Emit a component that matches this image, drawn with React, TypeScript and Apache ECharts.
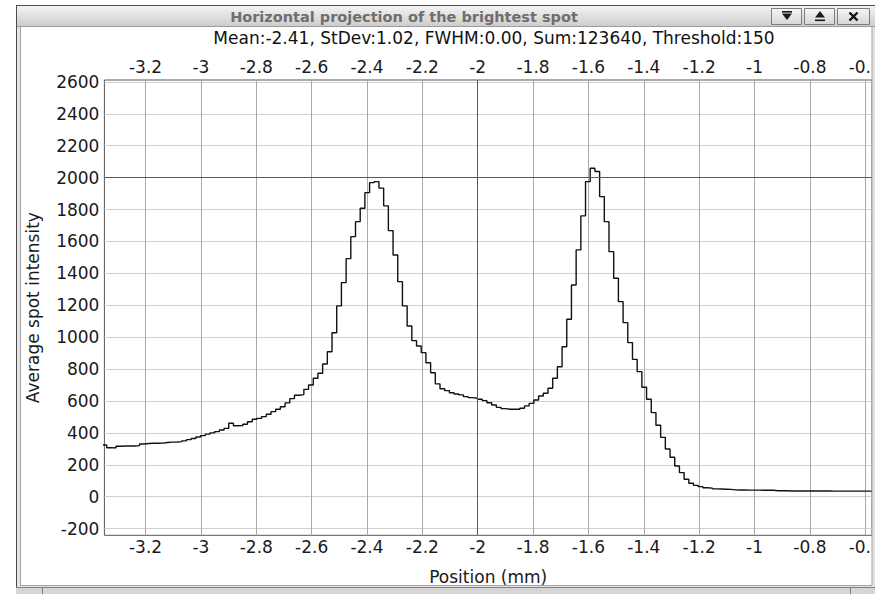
import React, { useEffect, useRef } from "react";
import * as echarts from "echarts";

const windowTitle = "Horizontal projection of the brightest spot";
const statsLine = "Mean:-2.41, StDev:1.02, FWHM:0.00, Sum:123640, Threshold:150";
const xAxisTitle = "Position (mm)";
const yAxisTitle = "Average spot intensity";

const xTicks = [-3.2, -3, -2.8, -2.6, -2.4, -2.2, -2, -1.8, -1.6, -1.4, -1.2, -1, -0.8, -0.6];
const yTicks = [-200, 0, 200, 400, 600, 800, 1000, 1200, 1400, 1600, 1800, 2000, 2200, 2400, 2600];

const xMin = -3.3486;
const xMax = -0.5755;
const yMin = -242;
const yMax = 2612;

// histogram bins (left edge of first bin, bin width in mm)
const binStart = -3.3573;
const binWidth = 0.01696;

const intensity = [
  324, 307, 306, 316, 318, 318, 318, 320, 330, 333,
  335, 335, 336, 340, 342, 343, 345, 350, 358, 365,
  374, 383, 392, 400, 408, 418, 428, 460, 445, 446,
  454, 470, 485, 491, 502, 517, 533, 548, 564, 588,
  615, 636, 640, 673, 700, 742, 774, 832, 909, 1028,
  1196, 1342, 1492, 1630, 1724, 1808, 1906, 1969, 1975, 1934,
  1823, 1668, 1515, 1348, 1196, 1070, 978, 945, 903, 840,
  777, 707, 677, 665, 652, 644, 638, 627, 621, 617,
  611, 602, 589, 575, 560, 552, 548, 548, 548, 554,
  569, 585, 606, 631, 648, 680, 742, 815, 940, 1112,
  1327, 1547, 1760, 1975, 2059, 2038, 1881, 1724, 1536, 1369,
  1223, 1091, 966, 861, 784, 686, 611, 527, 448, 372,
  299, 247, 192, 151, 109, 84, 71, 63, 56, 54,
  49, 48, 47, 46, 43, 42, 42, 41, 41, 41,
  40, 40, 40, 37, 37, 37, 36, 36, 36, 36,
  36, 36, 36, 36, 36, 35, 35, 35, 35, 35,
  35, 35, 35, 35,
];

const crossX = -2;
const crossY = 2000;

const FONT = "'DejaVu Sans', sans-serif";

function fmtX(v: number) {
  return String(Number(v.toFixed(1)));
}
function fmtY(v: number) {
  return String(Math.round(v));
}

export default function App() {
  const ref = useRef<HTMLDivElement>(null);

  useEffect(() => {
    if (!ref.current) return;
    const chart = echarts.init(ref.current, null, { renderer: "svg" });

    const points: number[][] = intensity.map((v, i) => [binStart + i * binWidth, v]);
    points.push([binStart + intensity.length * binWidth, intensity[intensity.length - 1]]);

    const barGrad = {
      type: "linear", x: 0, y: 0, x2: 0, y2: 1,
      colorStops: [
        { offset: 0, color: "#f3f3f3" },
        { offset: 1, color: "#cdcdcd" },
      ],
    };
    const btnGrad = {
      type: "linear", x: 0, y: 0, x2: 0, y2: 1,
      colorStops: [
        { offset: 0, color: "#f6f6f6" },
        { offset: 1, color: "#d6d6d6" },
      ],
    };

    const graphic: any[] = [
      { type: "rect", z: 40, shape: { x: 16, y: 5, width: 859, height: 1 }, style: { fill: "#4d4d4d" } },
      { type: "rect", z: 40, shape: { x: 16, y: 5, width: 1, height: 589 }, style: { fill: "#4d4d4d" } },
      { type: "rect", z: 40, shape: { x: 17, y: 6, width: 858, height: 20 }, style: { fill: barGrad } },
      { type: "rect", z: 40, shape: { x: 17, y: 26, width: 858, height: 1 }, style: { fill: "#9c9c9c" } },
      { type: "rect", z: 40, shape: { x: 17, y: 27, width: 3, height: 560 }, style: { fill: "#e3e3e3" } },
      { type: "rect", z: 40, shape: { x: 20, y: 27, width: 1, height: 558 }, style: { fill: "#a3a3a3" } },
      { type: "rect", z: 40, shape: { x: 872, y: 27, width: 3, height: 560 }, style: { fill: "#e3e3e3" } },
      { type: "rect", z: 41, shape: { x: 871.5, y: 27, width: 1, height: 558 }, style: { fill: "#a3a3a3" } },
      { type: "rect", z: 40, shape: { x: 20, y: 585, width: 852, height: 1 }, style: { fill: "#a3a3a3" } },
      { type: "rect", z: 40, shape: { x: 17, y: 586, width: 858, height: 1 }, style: { fill: "#e3e3e3" } },
      { type: "rect", z: 40, shape: { x: 16, y: 587, width: 859, height: 7 }, style: { fill: "#d6d6d6" } },
      { type: "rect", z: 41, shape: { x: 16, y: 587, width: 859, height: 1 }, style: { fill: "#808080" } },
      { type: "rect", z: 41, shape: { x: 42, y: 587, width: 1, height: 7 }, style: { fill: "#808080" } },
      { type: "rect", z: 41, shape: { x: 850, y: 587, width: 1, height: 7 }, style: { fill: "#808080" } },
      // buttons
      { type: "rect", z: 42, shape: { x: 771.5, y: 8.5, width: 30, height: 16 }, style: { fill: btnGrad, stroke: "#7d7d7d", lineWidth: 1 } },
      { type: "rect", z: 42, shape: { x: 804.5, y: 8.5, width: 30, height: 16 }, style: { fill: btnGrad, stroke: "#7d7d7d", lineWidth: 1 } },
      { type: "rect", z: 42, shape: { x: 837.5, y: 8.5, width: 32, height: 16 }, style: { fill: btnGrad, stroke: "#7d7d7d", lineWidth: 1 } },
      { type: "rect", z: 43, shape: { x: 782, y: 11, width: 10, height: 1.6 }, style: { fill: "#1a1a1a" } },
      { type: "polygon", z: 43, shape: { points: [[782, 13.5], [792, 13.5], [787, 20]] }, style: { fill: "#1a1a1a" } },
      { type: "polygon", z: 43, shape: { points: [[815, 17.5], [825, 17.5], [820, 11]] }, style: { fill: "#1a1a1a" } },
      { type: "rect", z: 43, shape: { x: 815, y: 19.5, width: 10, height: 1.6 }, style: { fill: "#1a1a1a" } },
      { type: "line", z: 43, shape: { x1: 849.5, y1: 12.5, x2: 857.5, y2: 20.5 }, style: { stroke: "#111", lineWidth: 2.4 } },
      { type: "line", z: 43, shape: { x1: 857.5, y1: 12.5, x2: 849.5, y2: 20.5 }, style: { stroke: "#111", lineWidth: 2.4 } },
      // texts
      {
        type: "text", z: 43, x: 404, y: 16.5,
        style: { text: windowTitle, fill: "#6e6e6e", font: "bold 14.5px " + FONT, textAlign: "center", textVerticalAlign: "middle" },
      },
      {
        type: "text", z: 43, x: 494, y: 37.5,
        style: { text: statsLine, fill: "#111111", font: "17px " + FONT, textAlign: "center", textVerticalAlign: "middle" },
      },
    ];

    const labelStyle = { fontSize: 17, color: "#1a1a1a", fontFamily: FONT };

    const option: any = {
      animation: false,
      backgroundColor: "#ffffff",
      textStyle: { fontFamily: FONT },
      grid: {
        left: 104.4, top: 80, right: 3, bottom: 58.7,
        outerBoundsMode: "none",
        containLabel: false,
        show: true, borderColor: "#555555", borderWidth: 1, backgroundColor: "transparent",
      },
      xAxis: [
        {
          type: "value", position: "bottom", min: xMin, max: xMax,
          name: xAxisTitle, nameLocation: "middle", nameGap: 33,
          nameTextStyle: { fontSize: 17, color: "#1a1a1a", fontFamily: FONT },
          axisLine: { show: false },
          axisTick: { show: false, customValues: xTicks },
          axisLabel: { ...labelStyle, margin: 3, customValues: xTicks, formatter: fmtX },
          splitLine: { show: true, lineStyle: { color: "#a8a8a8", width: 1 } },
        },
        {
          type: "value", position: "top", min: xMin, max: xMax,
          axisLine: { show: false },
          axisTick: { show: false, customValues: xTicks },
          axisLabel: { ...labelStyle, margin: 5, customValues: xTicks, formatter: fmtX },
          splitLine: { show: false },
        },
      ],
      yAxis: {
        type: "value", min: yMin, max: yMax,
        name: yAxisTitle, nameLocation: "middle", nameGap: 63, nameRotate: 90,
        nameTextStyle: { fontSize: 17, color: "#1a1a1a", fontFamily: FONT },
        axisLine: { show: false },
        axisTick: { show: false, customValues: yTicks },
        axisLabel: { ...labelStyle, margin: 5, customValues: yTicks, formatter: fmtY },
        splitLine: { show: true, lineStyle: { color: "#d0d0d0", width: 1 } },
      },
      graphic,
      series: [
        {
          type: "line", step: "end", data: points, symbol: "none", showSymbol: false,
          xAxisIndex: 0, yAxisIndex: 0,
          lineStyle: { color: "#111111", width: 1.4 },
          markLine: {
            silent: true, symbol: "none", label: { show: false },
            lineStyle: { color: "#5a5a5a", width: 1, type: "solid" },
            data: [{ xAxis: crossX }, { yAxis: crossY }],
          },
        },
      ],
    };

    chart.setOption(option);
    return () => chart.dispose();
  }, []);

  return (
    <div
      ref={ref}
      style={{ position: "fixed", left: 0, top: 0, width: 875, height: 594, background: "#ffffff" }}
    />
  );
}
